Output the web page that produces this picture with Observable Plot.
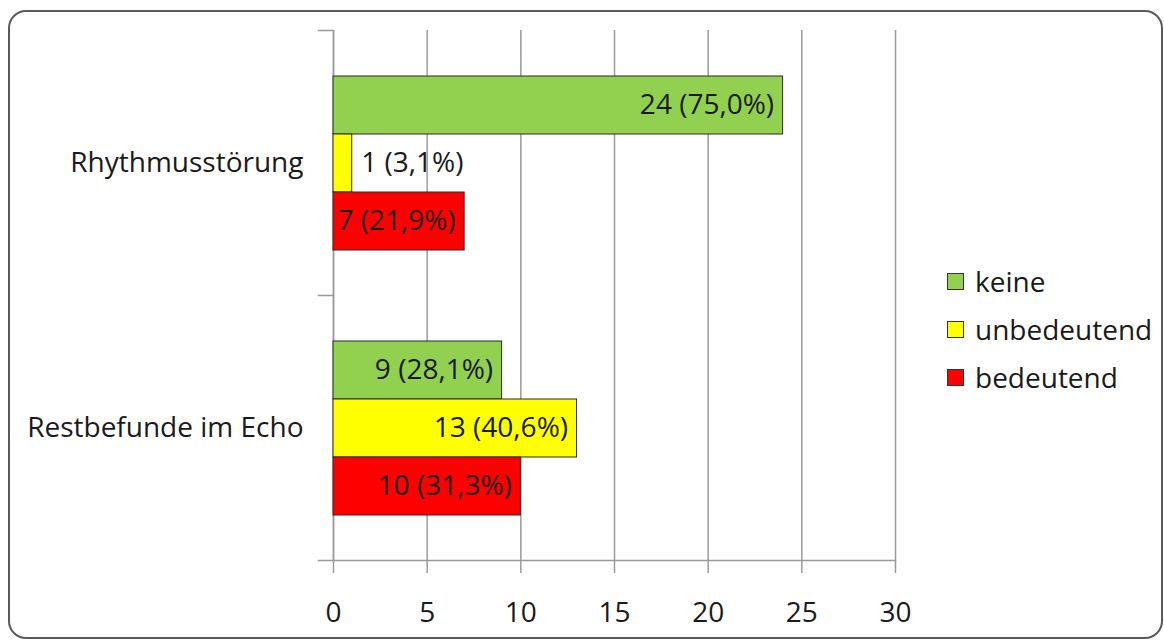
<!DOCTYPE html>
<html>
<head>
<meta charset="utf-8">
<script src="https://cdn.jsdelivr.net/npm/d3@7"></script>
<script src="https://cdn.jsdelivr.net/npm/@observablehq/plot@0.6"></script>
<style>
  html, body { margin: 0; padding: 0; background: #fff; }
  #wrap { position: relative; width: 1164px; height: 641px; overflow: hidden; font-family: "Open Sans", sans-serif; }
  #border { position: absolute; left: 8px; top: 10px; width: 1155px; height: 629px; box-sizing: border-box;
            border: 2px solid #5a5a5a; border-radius: 18px; pointer-events: none; }
  #chart { position: absolute; left: 0; top: 0; }
  #legend { position: absolute; left: 947px; top: 257px; font-size: 28px; color: #1a1a1a; }
  .row { display: flex; align-items: center; height: 48px; }
  .sw { width: 15px; height: 15px; border: 1px solid #333; margin-right: 11px; }
</style>
</head>
<body>
<div id="wrap">
  <div id="chart"></div>
  <div id="legend"></div>
  <div id="border"></div>
</div>
<script>
// ---- data ----
const categories = ["Rhythmusstörung", "Restbefunde im Echo"];
const levels = ["keine", "unbedeutend", "bedeutend"];
const colors = ["#92D050", "#FFFF00", "#FF0000"];
const rhythmValues = [24, 1, 7];
const echoValues = [9, 13, 10];
const total = 32;
const xTicks = [0, 5, 10, 15, 20, 25, 30];

const seriesByCategory = [rhythmValues, echoValues];
const rows = [];
categories.forEach((c, i) => levels.forEach((l, j) => {
  const v = seriesByCategory[i][j];
  rows.push({category: c, level: l, value: v,
    label: `${v} (${(v / total * 100).toFixed(1).replace(".", ",")}%)`});
}));

// ---- layout ----
const W = 1164, H = 641;
const mL = 333, mR = 269, mT = 30, mB = 81;
const plotW = W - mL - mR;
const gridColor = "#9a9a9a";
const fs = 28;

const chart = Plot.plot({
  width: W, height: H,
  marginLeft: mL, marginRight: mR, marginTop: mT, marginBottom: mB,
  style: {fontFamily: "'Open Sans', sans-serif", fontSize: fs + "px", color: "#1a1a1a", background: "transparent"},
  x: {domain: [0, 30], label: null},
  y: {domain: levels, paddingInner: 0, paddingOuter: 0.76, axis: null, label: null},
  fy: {domain: categories, padding: 0, axis: null, label: null},
  color: {domain: levels, range: colors},
  marks: [
    Plot.gridX(xTicks, {stroke: gridColor, strokeOpacity: 1, strokeWidth: 1.5}),
    Plot.ruleX([0], {stroke: gridColor, strokeWidth: 1.5}),
    Plot.frame({anchor: "top", stroke: gridColor, strokeWidth: 1.5, insetLeft: -15, insetRight: plotW}),
    Plot.frame({anchor: "bottom", facetAnchor: "bottom", stroke: gridColor, strokeWidth: 1.5, insetLeft: -15}),
    Plot.axisX(xTicks, {anchor: "bottom", tickSize: 13, tickPadding: 29, stroke: gridColor, strokeWidth: 1.5,
      fontSize: fs, fill: "#1a1a1a", tickFormat: d => d, label: null}),
    Plot.barX(rows, {fy: "category", y: "level", x: "value", fill: "level", stroke: "#2a2a2a", strokeWidth: 1}),
    Plot.text(rows.filter(d => d.value >= 5), {fy: "category", y: "level", x: "value", text: "label",
      textAnchor: "end", dx: -9, fontSize: fs, fill: "#1a1a1a"}),
    Plot.text(rows.filter(d => d.value < 5), {fy: "category", y: "level", x: "value", text: "label",
      textAnchor: "start", dx: 9, fontSize: fs, fill: "#1a1a1a"}),
    Plot.text(categories, {fy: d => d, text: d => d, frameAnchor: "left", textAnchor: "end", dx: -30,
      fontSize: fs, fill: "#1a1a1a"})
  ]
});
document.getElementById("chart").appendChild(chart);

const legend = document.getElementById("legend");
levels.forEach((l, i) => {
  const row = document.createElement("div");
  row.className = "row";
  const sw = document.createElement("div");
  sw.className = "sw";
  sw.style.background = colors[i];
  const t = document.createElement("span");
  t.textContent = l;
  row.appendChild(sw); row.appendChild(t);
  legend.appendChild(row);
});
</script>
</body>
</html>
